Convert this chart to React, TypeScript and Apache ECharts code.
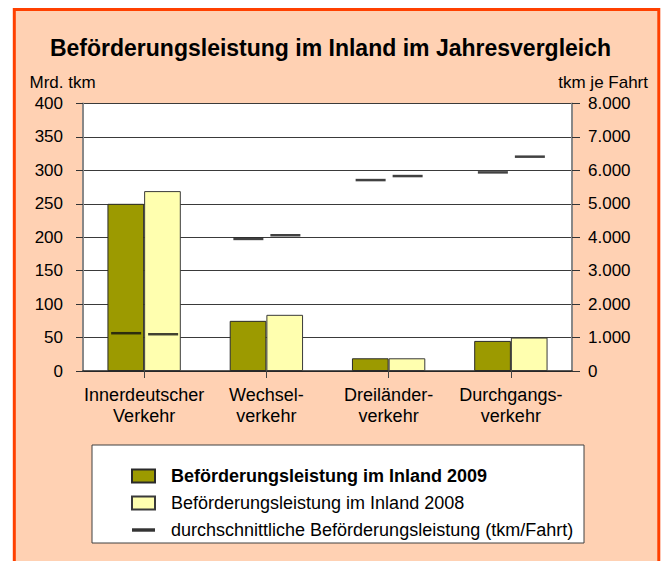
import React, { useEffect, useRef } from "react";
import * as echarts from "echarts";

const categories = ["Innerdeutscher\nVerkehr", "Wechsel-\nverkehr", "Dreiländer-\nverkehr", "Durchgangs-\nverkehr"];
const values2009 = [250, 75, 19, 45];
const values2008 = [269, 84, 19, 50];
const avg2009 = [1130, 3950, 5710, 5940];
const avg2008 = [1100, 4060, 5830, 6410];
const leftTicks = { min: 0, max: 400, interval: 50 };
const rightTicks = { min: 0, max: 8000, interval: 1000 };

const name2009 = "Beförderungsleistung im Inland 2009";
const name2008 = "Beförderungsleistung im Inland 2008";
const nameAvg = "durchschnittliche Beförderungsleistung (tkm/Fahrt)";
const titleText = "Beförderungsleistung im Inland im Jahresvergleich";
const leftAxisName = "Mrd. tkm";
const rightAxisName = "tkm je Fahrt";

const FONT = "'Liberation Sans', Arial, sans-serif";

function fmtDE(v: number): string {
  return String(v).replace(/\B(?=(\d{3})+(?!\d))/g, ".");
}

export default function App() {
  const ref = useRef<HTMLDivElement>(null);
  useEffect(() => {
    if (!ref.current) return;
    const chart = echarts.init(ref.current, null, { renderer: "svg" });
    chart.setOption({
      animation: false,
      backgroundColor: "#ffffff",
      textStyle: { fontFamily: FONT },
      title: {
        text: titleText,
        left: "center",
        top: 31,
        textStyle: { fontSize: 23, fontWeight: "bold", color: "#000", fontFamily: FONT },
      },
      graphic: [
        {
          type: "rect",
          z: -100,
          shape: { x: 14.3, y: 9.5, width: 644.5, height: 600 },
          style: { fill: "#FFD1B3", stroke: "#FF4000", lineWidth: 3 },
        },
        {
          type: "rect",
          z: -50,
          shape: { x: 92, y: 445, width: 492, height: 98 },
          style: { fill: "#ffffff", stroke: "#404040", lineWidth: 1 },
        },
        {
          type: "text",
          x: 29.5,
          y: 82,
          style: { text: leftAxisName, fontSize: 17, fontFamily: FONT, fill: "#000", textVerticalAlign: "middle", textAlign: "left" },
        },
        {
          type: "text",
          x: 648,
          y: 82,
          style: { text: rightAxisName, fontSize: 17, fontFamily: FONT, fill: "#000", textVerticalAlign: "middle", textAlign: "right" },
        },
      ],
      legend: {
        orient: "vertical",
        left: 126,
        top: 461,
        itemWidth: 23,
        itemHeight: 13,
        itemGap: 7,
        selectedMode: false,
        textStyle: { fontSize: 18, lineHeight: 20, color: "#000", fontFamily: FONT, padding: [0, 0, 0, 11] },
        data: [
          { name: name2009, icon: "rect", textStyle: { fontWeight: "bold" } },
          { name: name2008, icon: "rect" },
          { name: nameAvg, icon: "path://M0,0H20V3H0Z", itemStyle: { color: "#000" } },
        ],
      },
      grid: {
        left: 83,
        right: 89,
        top: 103.5,
        bottom: 190,
        show: true,
        backgroundColor: "#ffffff",
        borderWidth: 0,
      },
      xAxis: {
        type: "category",
        data: categories,
        axisLine: { lineStyle: { color: "#222", width: 1.5 } },
        axisTick: { show: true, alignWithLabel: true, length: 7, lineStyle: { color: "#444" } },
        axisLabel: { interval: 0, fontSize: 18, lineHeight: 21, color: "#000", margin: 13, fontFamily: FONT },
      },
      yAxis: [
        {
          type: "value",
          min: leftTicks.min,
          max: leftTicks.max,
          interval: leftTicks.interval,
          axisLine: { show: true, lineStyle: { color: "#888", width: 2 } },
          axisTick: { show: true, length: 7, lineStyle: { color: "#333" } },
          axisLabel: { fontSize: 17, color: "#000", margin: 20, fontFamily: FONT },
          splitLine: { show: true, lineStyle: { color: "#3a3a3a", width: 1 } },
        },
        {
          type: "value",
          min: rightTicks.min,
          max: rightTicks.max,
          interval: rightTicks.interval,
          position: "right",
          axisLine: { show: true, lineStyle: { color: "#888", width: 2 } },
          axisTick: { show: true, length: 8, lineStyle: { color: "#333" } },
          axisLabel: { fontSize: 17, color: "#000", margin: 16, fontFamily: FONT, formatter: (v: number) => fmtDE(v) },
          splitLine: { show: false },
        },
      ],
      series: [
        {
          name: name2009,
          type: "bar",
          data: values2009,
          barGap: "0%",
          barCategoryGap: "40%",
          itemStyle: { color: "#9C9A00", borderColor: "#2a2a2a", borderWidth: 1 },
        },
        {
          name: name2008,
          type: "bar",
          data: values2008,
          itemStyle: { color: "#FFFFAF", borderColor: "#3a3a3a", borderWidth: 1 },
        },
        {
          name: nameAvg,
          type: "scatter",
          yAxisIndex: 1,
          data: avg2009,
          symbol: "rect",
          symbolSize: [30, 2.5],
          symbolOffset: [-18, 0],
          itemStyle: { color: "#111" },
          z: 5,
        },
        {
          name: nameAvg,
          type: "scatter",
          yAxisIndex: 1,
          data: avg2008,
          symbol: "rect",
          symbolSize: [30, 2.5],
          symbolOffset: [19, 0],
          itemStyle: { color: "#111" },
          z: 5,
        },
      ],
    });
    return () => chart.dispose();
  }, []);
  return (
    <div
      ref={ref}
      style={{ position: "fixed", left: 0, top: 0, width: 661, height: 561 }}
    />
  );
}
